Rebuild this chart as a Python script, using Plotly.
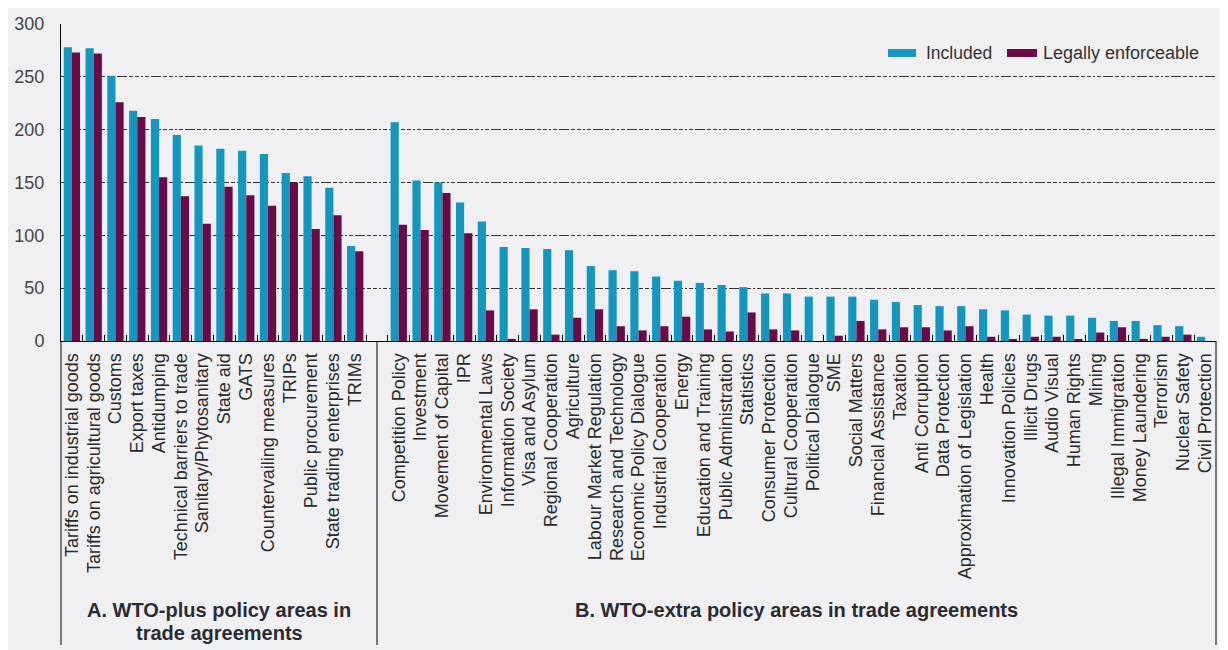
import plotly.graph_objects as go

# ---------------- data ----------------
cats_a = [
    "Tariffs on industrial goods", "Tariffs on agricultural goods", "Customs",
    "Export taxes", "Antidumping", "Technical barriers to trade",
    "Sanitary/Phytosanitary", "State aid", "GATS", "Countervailing measures",
    "TRIPs", "Public procurement", "State trading enterprises", "TRIMs",
]
included_a = [278, 277, 251, 218, 210, 195, 185, 182, 180, 177, 159, 156, 145, 90]
enforce_a = [273, 272, 226, 212, 155, 137, 111, 146, 138, 128, 150, 106, 119, 85]

cats_b = [
    "Competition Policy", "Investment", "Movement of Capital", "IPR",
    "Environmental Laws", "Information Society", "Visa and Asylum",
    "Regional Cooperation", "Agriculture", "Labour Market Regulation",
    "Research and Technology", "Economic Policy Dialogue", "Industrial Cooperation",
    "Energy", "Education and Training", "Public Administration", "Statistics",
    "Consumer Protection", "Cultural Cooperation", "Political Dialogue", "SME",
    "Social Matters", "Financial Assistance", "Taxation", "Anti Corruption",
    "Data Protection", "Approximation of Legislation", "Health",
    "Innovation Policies", "Illicit Drugs", "Audio Visual", "Human Rights",
    "Mining", "Illegal Immigration", "Money Laundering", "Terrorism",
    "Nuclear Safety", "Civil Protection",
]
included_b = [207, 152, 150, 131, 113, 89, 88, 87, 86, 71, 67, 66, 61, 57, 55, 53,
              51, 45, 45, 42, 42, 42, 39, 37, 34, 33, 33, 30, 29, 25, 24, 24, 22,
              19, 19, 15, 14, 4]
enforce_b = [110, 105, 140, 102, 29, 2, 30, 6, 22, 30, 14, 10, 14, 23, 11, 9, 27,
             11, 10, 0, 5, 19, 11, 13, 13, 10, 14, 4, 1, 4, 4, 1, 8, 13, 2, 4, 6, 0]

series_names = ["Included", "Legally enforceable"]
group_a_title = ["A. WTO-plus policy areas in", "trade agreements"]
group_b_title = "B. WTO-extra policy areas in trade agreements"
y_ticks = [0, 50, 100, 150, 200, 250, 300]

# ---------------- style ----------------
BLUE = "#1596be"
PURPLE = "#6a0a46"
BG = "#f0f0f2"
FONT = "Liberation Sans, Arial, sans-serif"

spacer = " "
cats = cats_a + [spacer] + cats_b
inc = included_a + [None] + included_b
enf = enforce_a + [None] + enforce_b
sep_idx = len(cats_a)
n = len(cats)

fig = go.Figure()
fig.add_bar(x=cats, y=inc, name=series_names[0], marker_color=BLUE,
            marker_line_width=0, showlegend=False)
fig.add_bar(x=cats, y=enf, name=series_names[1], marker_color=PURPLE,
            marker_line_width=0, showlegend=False)

# the page body has an 8px margin, so the figure is drawn 8px right/down
OFF = 8
W, H = 1228 - OFF, 650 - OFF
L, R, T, B = 61 - OFF, 1228 - 1216, 24 - OFF, 650 - 341
pw, ph = W - L - R, H - T - B


def px_x(px):
    """page x pixel -> paper coordinate"""
    return (px - OFF - L) / pw


def px_y(py):
    """page y pixel -> paper coordinate"""
    return (H - B - (py - OFF)) / ph


shapes = []
# grey panel
shapes.append(dict(type="rect", xref="paper", yref="paper", layer="below",
                   x0=px_x(0), x1=px_x(1219), y0=px_y(660), y1=px_y(0),
                   fillcolor=BG, line_width=0))
# vertical frame / separator lines below the axis
for xv, ref in [(0, "paper"), (1, "paper"), (sep_idx, "x")]:
    shapes.append(dict(type="line", xref=ref, yref="paper",
                       x0=xv, x1=xv, y0=px_y(645), y1=0,
                       line=dict(color="black", width=1)))
# custom legend swatches
shapes.append(dict(type="rect", xref="paper", yref="paper",
                   x0=px_x(888), x1=px_x(916), y0=px_y(57), y1=px_y(49),
                   fillcolor=BLUE, line_width=0))
shapes.append(dict(type="rect", xref="paper", yref="paper",
                   x0=px_x(1007), x1=px_x(1037), y0=px_y(57), y1=px_y(49),
                   fillcolor=PURPLE, line_width=0))

annotations = [
    dict(text=series_names[0], xref="paper", yref="paper", x=px_x(924), y=px_y(53),
         xanchor="left", yanchor="middle", showarrow=False,
         font=dict(family=FONT, size=17.5, color="#333333")),
    dict(text=series_names[1], xref="paper", yref="paper", x=px_x(1041), y=px_y(53),
         xanchor="left", yanchor="middle", showarrow=False,
         font=dict(family=FONT, size=18, color="#333333")),
    dict(text="<b>%s</b>" % group_a_title[0], xref="x", yref="paper",
         x=(-0.5 + sep_idx) / 2, y=px_y(610), xanchor="center", yanchor="middle",
         showarrow=False, font=dict(family=FONT, size=20, color="#2b2b33")),
    dict(text="<b>%s</b>" % group_a_title[1], xref="x", yref="paper",
         x=(-0.5 + sep_idx) / 2, y=px_y(633), xanchor="center", yanchor="middle",
         showarrow=False, font=dict(family=FONT, size=20, color="#2b2b33")),
    dict(text="<b>%s</b>" % group_b_title, xref="x", yref="paper",
         x=(sep_idx + n - 0.5) / 2, y=px_y(610), xanchor="center", yanchor="middle",
         showarrow=False, font=dict(family=FONT, size=20, color="#2b2b33")),
]

fig.update_layout(
    width=W, height=H,
    margin=dict(l=L, r=R, t=T, b=B, autoexpand=False),
    paper_bgcolor="white", plot_bgcolor=BG,
    barmode="group", bargap=0.25, bargroupgap=0,
    font=dict(family=FONT, color="#333333"),
    shapes=shapes, annotations=annotations,
    xaxis=dict(
        type="category", categoryorder="array", categoryarray=cats,
        range=[-0.5, n - 0.5],
        tickmode="linear", tick0=0, dtick=1,
        tickson="boundaries", ticks="inside", ticklen=6, tickwidth=1,
        tickcolor="black", showline=True, linecolor="black", linewidth=1,
        showgrid=False, tickangle=-90, ticklabelstandoff=4,
        tickfont=dict(family=FONT, size=18, color="#2b2b2b"),
    ),
    yaxis=dict(
        range=[0, 300], tickmode="array", tickvals=y_ticks,
        showgrid=True, gridcolor="#333333", gridwidth=1.3,
        griddash="4px,2px,4px,2px,2px,2px,4px,2px,10px,2px",
        showline=True, linecolor="black", linewidth=1, zeroline=False,
        ticks="", ticklabelstandoff=12,
        tickfont=dict(family=FONT, size=18, color="#444444"),
    ),
)

fig.write_html("out.html")
